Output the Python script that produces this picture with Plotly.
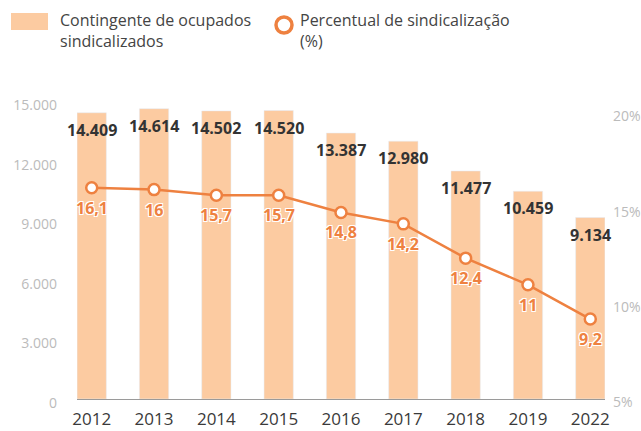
import plotly.graph_objects as go

years = ["2012", "2013", "2014", "2015", "2016", "2017", "2018", "2019", "2022"]
contingente = [14409, 14614, 14502, 14520, 13387, 12980, 11477, 10459, 9134]
contingente_labels = ["14.409", "14.614", "14.502", "14.520", "13.387", "12.980", "11.477", "10.459", "9.134"]
percentual = [16.1, 16.0, 15.7, 15.7, 14.8, 14.2, 12.4, 11.0, 9.2]
percentual_labels = ["16,1", "16", "15,7", "15,7", "14,8", "14,2", "12,4", "11", "9,2"]
left_ticks = [0, 3000, 6000, 9000, 12000, 15000]
left_ticktext = ["0", "3.000", "6.000", "9.000", "12.000", "15.000"]
right_ticks = [5, 10, 15, 20]
right_ticktext = ["5%", "10%", "15%", "20%"]

W, H = 641, 431
ML, MR, MT, MB = 77, 36, 95, 32
PW, PH = W - ML - MR, H - MT - MB

def px(x):
    return (x - ML) / PW

def py(y):
    return (H - MB - y) / PH

BAR = "#fccba1"
ORANGE = "#ee8140"
FONT = "Open Sans"

fig = go.Figure()
fig.add_trace(go.Bar(x=years, y=contingente, marker_color=BAR, width=0.47,
                     name="Contingente de ocupados sindicalizados", hoverinfo="skip"))
fig.add_trace(go.Scatter(x=years, y=percentual, yaxis="y2", mode="lines+markers",
                         line=dict(color=ORANGE, width=2.5),
                         marker=dict(size=11, color="white", line=dict(color=ORANGE, width=2.5)),
                         name="Percentual de sindicalização (%)", hoverinfo="skip"))

annotations = []
for i, (v, t) in enumerate(zip(contingente, contingente_labels)):
    annotations.append(dict(x=i, y=v, xref="x", yref="y", text=t, showarrow=False,
                            yshift=-17, font=dict(family=FONT, size=16, color="#333333", weight="bold")))
for i, (v, t) in enumerate(zip(percentual, percentual_labels)):
    annotations.append(dict(x=i, y=v, xref="x", yref="y2", text=t, showarrow=False,
                            yshift=-20,
                            font=dict(family=FONT, size=16, color=ORANGE, weight="bold",
                                      shadow="1px 1px 0 #fff, -1px -1px 0 #fff, 1px -1px 0 #fff, -1px 1px 0 #fff")))

# manual legend
annotations.append(dict(x=px(58), y=py(7), xref="paper", yref="paper", xanchor="left", yanchor="top",
                        text="Contingente de ocupados<br>sindicalizados", showarrow=False, align="left",
                        font=dict(family=FONT, size=16, color="#444444")))
annotations.append(dict(x=px(298), y=py(7), xref="paper", yref="paper", xanchor="left", yanchor="top",
                        text="Percentual de sindicalização<br>(%)", showarrow=False, align="left",
                        font=dict(family=FONT, size=16, color="#444444")))
shapes = [
    dict(type="rect", xref="paper", yref="paper", x0=px(11), x1=px(48), y0=py(30), y1=py(13),
         fillcolor=BAR, line=dict(width=0)),
    dict(type="circle", xref="paper", yref="paper", x0=px(276), x1=px(292), y0=py(33), y1=py(17),
         fillcolor="white", line=dict(color=ORANGE, width=3.5)),
]

fig.update_layout(
    width=W, height=H,
    margin=dict(l=ML, r=MR, t=MT, b=MB, autoexpand=False),
    paper_bgcolor="white", plot_bgcolor="white",
    showlegend=False,
    font=dict(family=FONT),
    xaxis=dict(type="category", range=[-0.236, 8.236], showgrid=False, showline=True,
               linecolor="#9a9a9a", linewidth=1, automargin=False,
               tickfont=dict(family=FONT, size=17, color="#3a3a3a"), ticks="", ticklabelstandoff=5),
    yaxis=dict(range=[0, 15302], tickvals=left_ticks, ticktext=left_ticktext, showgrid=False,
               zeroline=False, tickfont=dict(family=FONT, size=14, color="#bbbbbb"), automargin=False,
               ticklabelstandoff=19, ticklabelshift=4),
    yaxis2=dict(range=[5, 20.97], overlaying="y", side="right", tickvals=right_ticks,
                ticktext=right_ticktext, showgrid=False, zeroline=False, automargin=False,
                tickfont=dict(family=FONT, size=14, color="#bbbbbb"), ticklabelstandoff=7,
                ticklabelshift=3),
    annotations=annotations,
    shapes=shapes,
)

fig.write_html("out.html", config={"displayModeBar": False},
               post_script="document.body.style.margin='0';")
